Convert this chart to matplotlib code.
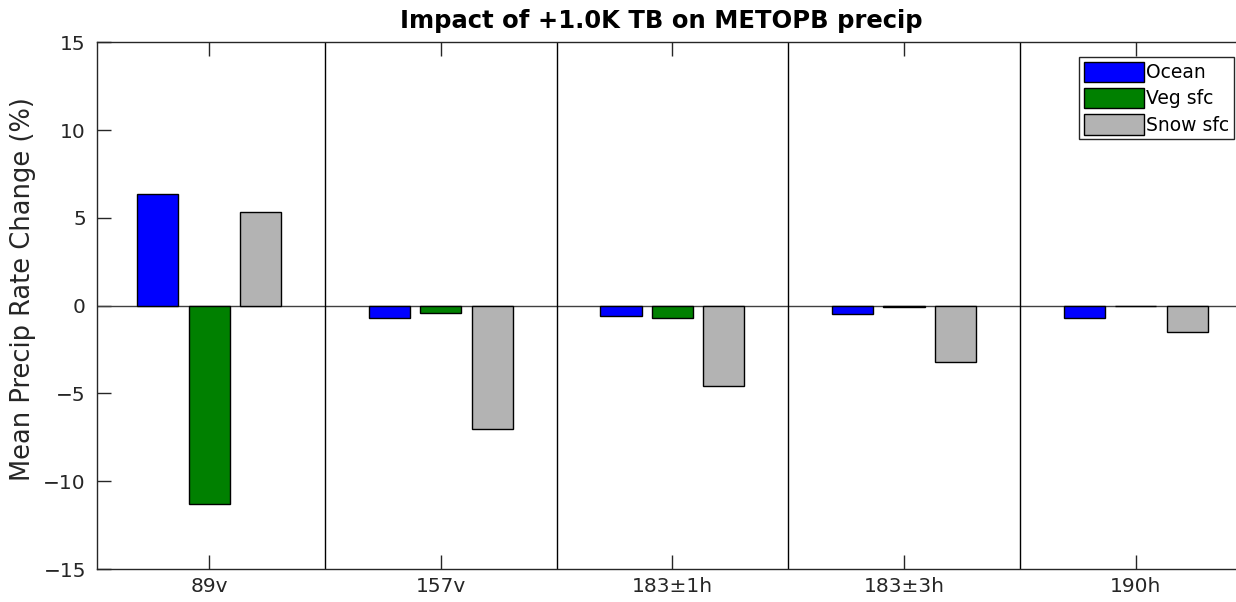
import matplotlib
matplotlib.use("Agg")
import matplotlib.pyplot as plt
import numpy as np

# channels and precip change (%) per surface type
channels = ["89v", "157v", "183\u00b11h", "183\u00b13h", "190h"]
ocean = [6.35, -0.72, -0.57, -0.49, -0.72]
veg = [-11.3, -0.43, -0.72, -0.07, -0.02]
snow = [5.34, -7.03, -4.56, -3.19, -1.50]
series_names = ["Ocean", "Veg sfc", "Snow sfc"]
series_colors = ["#0000ff", "#008000", "#b3b3b3"]
yticks = [-15, -10, -5, 0, 5, 10, 15]

plt.rcParams['font.family'] = 'DejaVu Sans'
axcol = '#262626'

fig = plt.figure(figsize=(12.36, 6.02), dpi=100)
ax = fig.add_axes([0.0785, 0.0548, 0.934, 0.8748])

x = np.arange(len(channels))
step = 0.2222
width = step * 0.8
for i, (vals, name, col) in enumerate(zip([ocean, veg, snow], series_names, series_colors)):
    ax.bar(x + (i - 1) * step, vals, width=width, color=col, edgecolor='black',
           linewidth=1.0, label=name, zorder=3)

# zero line and channel separators
ax.axhline(0, color='#404040', linewidth=1.0, zorder=2)
for s in x[:-1] + 0.5:
    ax.axvline(s, color='black', linewidth=1.0, zorder=2)

ax.set_xlim(-0.484, 4.5)
ax.set_ylim(-15, 15)
ax.set_xticks(x)
ax.set_xticklabels(channels)
ax.set_yticks(yticks)
ax.tick_params(direction='in', length=10, width=1, colors=axcol, labelsize=14.5,
               top=True, right=True, pad=6)
ax.tick_params(axis='y', pad=8)
for sp in ax.spines.values():
    sp.set_color(axcol)
    sp.set_linewidth(1.0)

ax.set_ylabel("Mean Precip Rate Change (%)", fontsize=18.5, color=axcol)
ax.yaxis.set_label_coords(-0.053, 0.532)
ax.set_title("Impact of +1.0K TB on METOPB precip", fontsize=17.5, fontweight='bold',
             pad=10, x=0.489)

leg = ax.legend(loc='upper right', bbox_to_anchor=(0.985, 0.972), fontsize=13.5,
                frameon=True, fancybox=False, edgecolor=axcol, framealpha=1,
                handlelength=3.2, handleheight=1.3, handletextpad=0.15,
                labelspacing=0.3, borderpad=0.25, borderaxespad=0)
leg.get_frame().set_linewidth(1.0)

fig.savefig("out.png", dpi=100)
